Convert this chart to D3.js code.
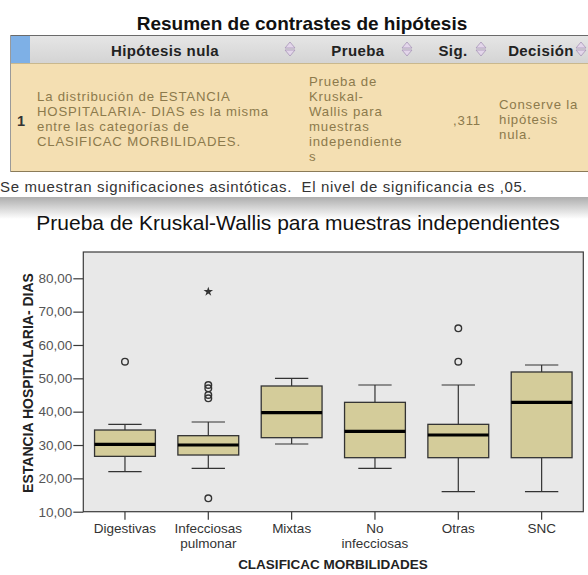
<!DOCTYPE html>
<html>
<head>
<meta charset="utf-8">
<script src="https://cdn.jsdelivr.net/npm/d3@7"></script>
<style>
  body { margin: 0; background: #fff; }
  text { font-family: Arial, "Liberation Sans", sans-serif; white-space: pre; }
</style>
</head>
<body>
<div id="target"></div>
<script>
// hypothesis summary table
const tableTitle = 'Resumen de contrastes de hipótesis'
const headers = ['Hipótesis nula', 'Prueba', 'Sig.', 'Decisión']
const hypothesisLines = ['La distribución de ESTANCIA', 'HOSPITALARIA- DIAS es la misma', 'entre las categorías de', 'CLASIFICAC MORBILIDADES.']
const testLines = ['Prueba de', 'Kruskal-', 'Wallis para', 'muestras', 'independiente', 's']
const sigValue = ',311'
const decisionLines = ['Conserve la', 'hipótesis', 'nula.']
const footnote = 'Se muestran significaciones asintóticas.  El nivel de significancia es ,05.'

// boxplot
const chartTitle = 'Prueba de Kruskal-Wallis para muestras independientes'
const categories = ['Digestivas', 'Infecciosas pulmonar', 'Mixtas', 'No infecciosas', 'Otras', 'SNC']
const categoryLines = [['Digestivas'], ['Infecciosas', 'pulmonar'], ['Mixtas'], ['No', 'infecciosas'], ['Otras'], ['SNC']]
const whiskerLow = [22, 23, 30.3, 23, 16, 16]
const q1 = [26.6, 27, 32.2, 26.2, 26.2, 26.2]
const medians = [30.2, 30, 39.7, 34.1, 33, 42.8]
const q3 = [34.5, 32.8, 47.7, 42.8, 36.2, 51.9]
const whiskerHigh = [36.2, 36.9, 50, 48, 48, 54]
const outliers = [
    { cat: 'Digestivas', v: 55 },
    { cat: 'Infecciosas pulmonar', v: 48 },
    { cat: 'Infecciosas pulmonar', v: 47 },
    { cat: 'Infecciosas pulmonar', v: 45 },
    { cat: 'Infecciosas pulmonar', v: 44 },
    { cat: 'Infecciosas pulmonar', v: 14 },
    { cat: 'Otras', v: 65 },
    { cat: 'Otras', v: 55 }
]
const extremes = [{ cat: 'Infecciosas pulmonar', v: 76 }]
const yTicks = [10, 20, 30, 40, 50, 60, 70, 80]
const yTitle = 'ESTANCIA HOSPITALARIA- DIAS'
const xTitle = 'CLASIFICAC MORBILIDADES'

const svg = d3.select('#target')
    .append('svg')
    .attr('width', 588)
    .attr('height', 575)

const defs = svg.append('defs')
const hg = defs.append('linearGradient').attr('id', 'hdr').attr('x1', 0).attr('y1', 0).attr('x2', 0).attr('y2', 1)
hg.append('stop').attr('offset', 0).attr('stop-color', '#e6e6e6')
hg.append('stop').attr('offset', 1).attr('stop-color', '#d4d4d4')
const bg = defs.append('linearGradient').attr('id', 'band').attr('x1', 0).attr('y1', 0).attr('x2', 0).attr('y2', 1)
bg.append('stop').attr('offset', 0).attr('stop-color', '#adadad')
bg.append('stop').attr('offset', 1).attr('stop-color', '#ffffff')

// ---- table ----
svg.append('text')
    .attr('x', 302).attr('y', 30)
    .attr('text-anchor', 'middle')
    .style('font-size', '19px').style('font-weight', 'bold').style('fill', '#111')
    .text(tableTitle)

svg.append('rect').attr('x', 10).attr('y', 35).attr('width', 590).attr('height', 28).attr('fill', 'url(#hdr)')
svg.append('rect').attr('x', 10).attr('y', 35).attr('width', 20).attr('height', 28).attr('fill', '#7eb0e6')
svg.append('rect').attr('x', 10).attr('y', 63).attr('width', 590).attr('height', 109).attr('fill', '#f4dfb2')
svg.append('line').attr('x1', 10).attr('x2', 600).attr('y1', 35.5).attr('y2', 35.5).attr('stroke', '#6a6a6a')
svg.append('line').attr('x1', 10).attr('x2', 600).attr('y1', 63.5).attr('y2', 63.5).attr('stroke', '#c9b88e')
svg.append('line').attr('x1', 10).attr('x2', 600).attr('y1', 171.5).attr('y2', 171.5).attr('stroke', '#8b7b58').attr('stroke-width', 1.2)
svg.append('line').attr('x1', 10.5).attr('x2', 10.5).attr('y1', 35).attr('y2', 172).attr('stroke', '#9a9a9a')

const headerX = [165, 358, 453, 541]
const iconX = [290, 407, 481, 581]
svg.selectAll('text.hdr')
    .data(headers)
    .enter()
    .append('text')
    .attr('class', 'hdr')
    .attr('x', (d, i) => headerX[i])
    .attr('y', 56)
    .attr('text-anchor', 'middle')
    .style('font-size', '15px').style('font-weight', 'bold').style('fill', '#222')
    .style('letter-spacing', '0.4px')
    .text(d => d)

svg.selectAll('path.sort')
    .data(iconX)
    .enter()
    .append('path')
    .attr('class', 'sort')
    .attr('d', x => `M${x - 5},${48} L${x},${42} L${x + 5},${48} Z M${x - 5},${50} L${x},${56} L${x + 5},${50} Z`)
    .attr('fill', '#e3d6ea').attr('stroke', '#a795b8').attr('stroke-width', 0.8)

const rowText = (lines, x, y0, anchor) => svg.append('g').selectAll('text')
    .data(lines)
    .enter()
    .append('text')
    .attr('x', x)
    .attr('y', (d, i) => y0 + i * 15)
    .attr('text-anchor', anchor || 'start')
    .style('font-size', '13.2px').style('fill', '#8c7a4c').style('letter-spacing', '0.8px')
    .text(d => d)

rowText(hypothesisLines, 37, 101)
rowText(testLines, 309, 86)
rowText([sigValue], 481, 125, 'end')
rowText(decisionLines, 499, 109)

svg.append('text').attr('x', 17).attr('y', 126)
    .style('font-size', '14.5px').style('font-weight', 'bold').style('fill', '#333')
    .text('1')

svg.append('text').attr('x', 0).attr('y', 192)
    .style('font-size', '15px').style('fill', '#333').style('letter-spacing', '0.65px')
    .text(footnote)

svg.append('rect').attr('x', 0).attr('y', 197).attr('width', 588).attr('height', 22).attr('fill', 'url(#band)')

// ---- boxplot ----
svg.append('text')
    .attr('x', 298).attr('y', 230)
    .attr('text-anchor', 'middle')
    .style('font-size', '21px').style('fill', '#111')
    .text(chartTitle)

const x = d3.scaleBand().domain(categories).range([83.3, 583.3])
const y = d3.scaleLinear().domain([10, 80]).range([511.7, 278.3])
const plotTop = 252
const boxW = x.bandwidth() * 0.73
const capW = x.bandwidth() * 0.4
const cx = c => x(c) + x.bandwidth() / 2

svg.append('rect')
    .attr('x', 83.3).attr('y', plotTop)
    .attr('width', 500).attr('height', y(10) - plotTop)
    .attr('fill', '#e8e8e8').attr('stroke', '#3a3a3a').attr('stroke-width', 1.2)

const comma = d3.formatLocale({ decimal: ',', thousands: '.', grouping: [3], currency: ['', ''] }).format('.2f')
const yAxis = d3.axisLeft(y).tickValues(yTicks).tickFormat(comma).tickSize(10).tickPadding(1)
const xAxis = d3.axisBottom(x).tickSize(8).tickFormat('')

const gy = svg.append('g').attr('transform', 'translate(83.3,0)').call(yAxis)
gy.select('.domain').remove()
gy.selectAll('line').attr('stroke', '#3a3a3a').attr('stroke-width', 1.2)
gy.selectAll('text').style('font-size', '13.5px').style('fill', '#555').style('font-family', 'Arial, "Liberation Sans", sans-serif')

const gx = svg.append('g').attr('transform', `translate(0,${y(10)})`).call(xAxis)
gx.select('.domain').remove()
gx.selectAll('line').attr('stroke', '#3a3a3a').attr('stroke-width', 1.2)

const stats = categories.map((c, i) => ({ c, lo: whiskerLow[i], q1: q1[i], med: medians[i], q3: q3[i], hi: whiskerHigh[i], lines: categoryLines[i] }))

svg.append('g').selectAll('text')
    .data(stats)
    .enter()
    .append('text')
    .attr('text-anchor', 'middle')
    .style('font-size', '13.5px').style('fill', '#333')
    .selectAll('tspan')
    .data(d => d.lines.map((l, j) => ({ l, j, c: d.c })))
    .enter()
    .append('tspan')
    .attr('x', d => cx(d.c))
    .attr('y', d => 533 + d.j * 14.5)
    .text(d => d.l)

const boxes = svg.append('g').selectAll('g')
    .data(stats)
    .enter()
    .append('g')

boxes.append('line')
    .attr('x1', d => cx(d.c)).attr('x2', d => cx(d.c))
    .attr('y1', d => y(d.hi)).attr('y2', d => y(d.q3))
    .attr('stroke', '#333').attr('stroke-width', 1.2)
boxes.append('line')
    .attr('x1', d => cx(d.c)).attr('x2', d => cx(d.c))
    .attr('y1', d => y(d.q1)).attr('y2', d => y(d.lo))
    .attr('stroke', '#333').attr('stroke-width', 1.2)
boxes.append('line')
    .attr('x1', d => cx(d.c) - capW / 2).attr('x2', d => cx(d.c) + capW / 2)
    .attr('y1', d => y(d.hi)).attr('y2', d => y(d.hi))
    .attr('stroke', '#333').attr('stroke-width', 1.2)
boxes.append('line')
    .attr('x1', d => cx(d.c) - capW / 2).attr('x2', d => cx(d.c) + capW / 2)
    .attr('y1', d => y(d.lo)).attr('y2', d => y(d.lo))
    .attr('stroke', '#333').attr('stroke-width', 1.2)
boxes.append('rect')
    .attr('x', d => cx(d.c) - boxW / 2)
    .attr('y', d => y(d.q3))
    .attr('width', boxW)
    .attr('height', d => y(d.q1) - y(d.q3))
    .attr('fill', '#d4cc9a').attr('stroke', '#333').attr('stroke-width', 1.3)
boxes.append('line')
    .attr('x1', d => cx(d.c) - boxW / 2).attr('x2', d => cx(d.c) + boxW / 2)
    .attr('y1', d => y(d.med)).attr('y2', d => y(d.med))
    .attr('stroke', '#000').attr('stroke-width', 3.2)

svg.append('g').selectAll('circle')
    .data(outliers)
    .enter()
    .append('circle')
    .attr('cx', d => cx(d.cat))
    .attr('cy', d => y(d.v))
    .attr('r', 3.3)
    .attr('fill', 'none').attr('stroke', '#333').attr('stroke-width', 1.4)

svg.append('g').selectAll('path')
    .data(extremes)
    .enter()
    .append('path')
    .attr('transform', d => `translate(${cx(d.cat)},${y(d.v)})`)
    .attr('d', d3.symbol(d3.symbolStar, 28))
    .attr('fill', '#333')

svg.append('text')
    .attr('transform', 'translate(33,383) rotate(-90)')
    .attr('text-anchor', 'middle')
    .style('font-size', '14px').style('font-weight', 'bold').style('fill', '#222')
    .text(yTitle)

svg.append('text')
    .attr('x', 333).attr('y', 569)
    .attr('text-anchor', 'middle')
    .style('font-size', '13.5px').style('font-weight', 'bold').style('fill', '#222')
    .text(xTitle)
</script>
</body>
</html>
